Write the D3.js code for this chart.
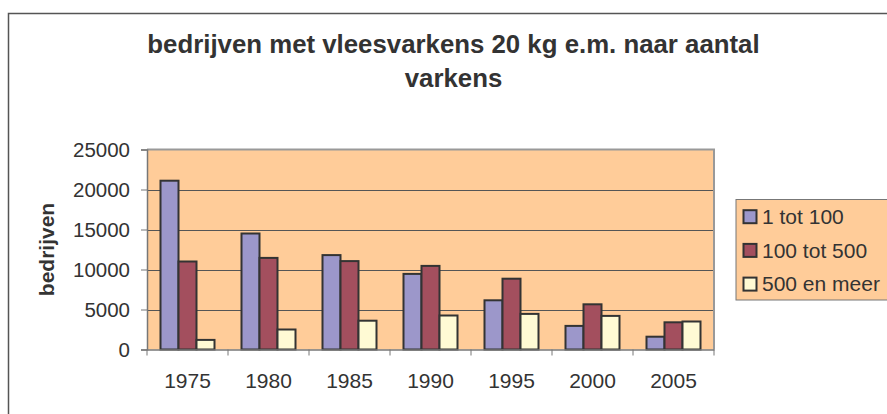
<!DOCTYPE html>
<html>
<head>
<meta charset="utf-8">
<script src="https://cdn.jsdelivr.net/npm/d3@7"></script>
<style>
  html, body { margin: 0; padding: 0; background: #ffffff; }
  svg { display: block; }
  text { font-family: "Liberation Sans", Arial, Helvetica, sans-serif; fill: #333333; }
</style>
</head>
<body>
<svg id="chart" width="887" height="414"></svg>
<script>
const years = ["1975", "1980", "1985", "1990", "1995", "2000", "2005"];
const seriesNames = ["1 tot 100", "100 tot 500", "500 en meer"];
const s1 = [21100, 14500, 11800, 9450, 6150, 2950, 1600];
const s2 = [11000, 11450, 11050, 10450, 8850, 5650, 3400];
const s3 = [1200, 2500, 3600, 4250, 4450, 4200, 3500];
const yTicks = [0, 5000, 10000, 15000, 20000, 25000];
const colors = ["#9C97CA", "#A34F5E", "#FFFAD4"];
const titleLines = ["bedrijven met vleesvarkens 20 kg e.m. naar aantal", "varkens"];
const yTitle = "bedrijven";

const seriesVals = [s1, s2, s3];
const svg = d3.select("#chart");

// outer chart frame
svg.append("rect").attr("x", 8.5).attr("y", 13.5).attr("width", 900).attr("height", 420)
  .attr("fill", "#ffffff").attr("stroke", "#555555").attr("stroke-width", 1.5);

const plot = { left: 147, right: 714, top: 149.5, bottom: 349.5 };

const x0 = d3.scaleBand().domain(years).range([plot.left, plot.right]).padding(0);
const x1 = d3.scaleBand().domain(seriesNames).range([0, x0.bandwidth()]).paddingInner(0).paddingOuter(0.75);
const y = d3.scaleLinear().domain([0, 25000]).range([plot.bottom, plot.top]);

// plot background
svg.append("rect").attr("x", plot.left).attr("y", plot.top)
  .attr("width", plot.right - plot.left).attr("height", plot.bottom - plot.top)
  .attr("fill", "#FFCC99");

// gridlines
svg.append("g").selectAll("line").data(yTicks.filter(t => t > 0 && t < 25000)).join("line")
  .attr("x1", plot.left).attr("x2", plot.right)
  .attr("y1", d => Math.round(y(d)) + 0.5).attr("y2", d => Math.round(y(d)) + 0.5)
  .attr("stroke", "#555555").attr("stroke-width", 1);

// plot border (top and right, grey)
svg.append("path")
  .attr("d", `M${plot.left},${plot.top}H${plot.right}V${plot.bottom}`)
  .attr("fill", "none").attr("stroke", "#999999").attr("stroke-width", 2);

// bars
const groups = svg.append("g").selectAll("g").data(years).join("g")
  .attr("transform", d => `translate(${x0(d)},0)`);
groups.selectAll("rect").data((d, i) => seriesNames.map((s, j) => ({ s, j, v: seriesVals[j][i] }))).join("rect")
  .attr("x", d => x1(d.s))
  .attr("width", x1.bandwidth())
  .attr("y", d => y(d.v))
  .attr("height", d => y(0) - y(d.v))
  .attr("fill", d => colors[d.j])
  .attr("stroke", "#333333").attr("stroke-width", 2);

// y axis
const yAxis = d3.axisLeft(y).tickValues(yTicks).tickSize(6).tickPadding(11).tickFormat(d3.format("d"));
const gy = svg.append("g").attr("transform", `translate(${plot.left},0)`).call(yAxis);
gy.select(".domain").attr("stroke", "#777777").attr("stroke-width", 1.5);
gy.selectAll(".tick line").attr("stroke", "#777777");
gy.selectAll(".tick text").attr("font-size", 20.5).attr("fill", "#333333")
  .attr("font-family", "'Liberation Sans', Arial, sans-serif");

// x axis
const xAxis = d3.axisBottom(x0).tickSize(0).tickPadding(24);
const gx = svg.append("g").attr("transform", `translate(0,${plot.bottom})`).call(xAxis);
gx.select(".domain").attr("stroke", "#777777").attr("stroke-width", 1.5);
gx.selectAll(".tick text").attr("font-size", 21).attr("fill", "#333333")
  .attr("font-family", "'Liberation Sans', Arial, sans-serif");
// category boundary ticks
const bounds = years.map(d => x0(d)).concat([x0.range()[1]]);
gx.append("g").selectAll("line").data(bounds).join("line")
  .attr("x1", d => d).attr("x2", d => d).attr("y1", 0).attr("y2", 6)
  .attr("stroke", "#777777").attr("stroke-width", 1);

// title
svg.append("g").selectAll("text").data(titleLines).join("text")
  .attr("x", 453.5).attr("y", (d, i) => 52.5 + i * 34.2)
  .attr("text-anchor", "middle").attr("font-size", 25.8).attr("font-weight", "bold")
  .text(d => d);

// y title
svg.append("text")
  .attr("transform", `translate(54,${(plot.top + plot.bottom) / 2}) rotate(-90)`)
  .attr("text-anchor", "middle").attr("font-size", 21).attr("font-weight", "bold")
  .text(yTitle);

// legend
const lg = svg.append("g");
lg.append("rect").attr("x", 736).attr("y", 199.5).attr("width", 200).attr("height", 100.5)
  .attr("fill", "#FFCC99").attr("stroke", "#777777").attr("stroke-width", 1);
const items = lg.selectAll("g").data(seriesNames).join("g")
  .attr("transform", (d, i) => `translate(0,${216.7 + i * 33.7})`);
items.append("rect").attr("x", 743.5).attr("y", -6.5).attr("width", 13).attr("height", 13)
  .attr("fill", (d, i) => colors[i]).attr("stroke", "#333333").attr("stroke-width", 2);
items.append("text").attr("x", 762).attr("y", 0).attr("dy", "0.35em")
  .attr("font-size", 21).text(d => d);
</script>
</body>
</html>
